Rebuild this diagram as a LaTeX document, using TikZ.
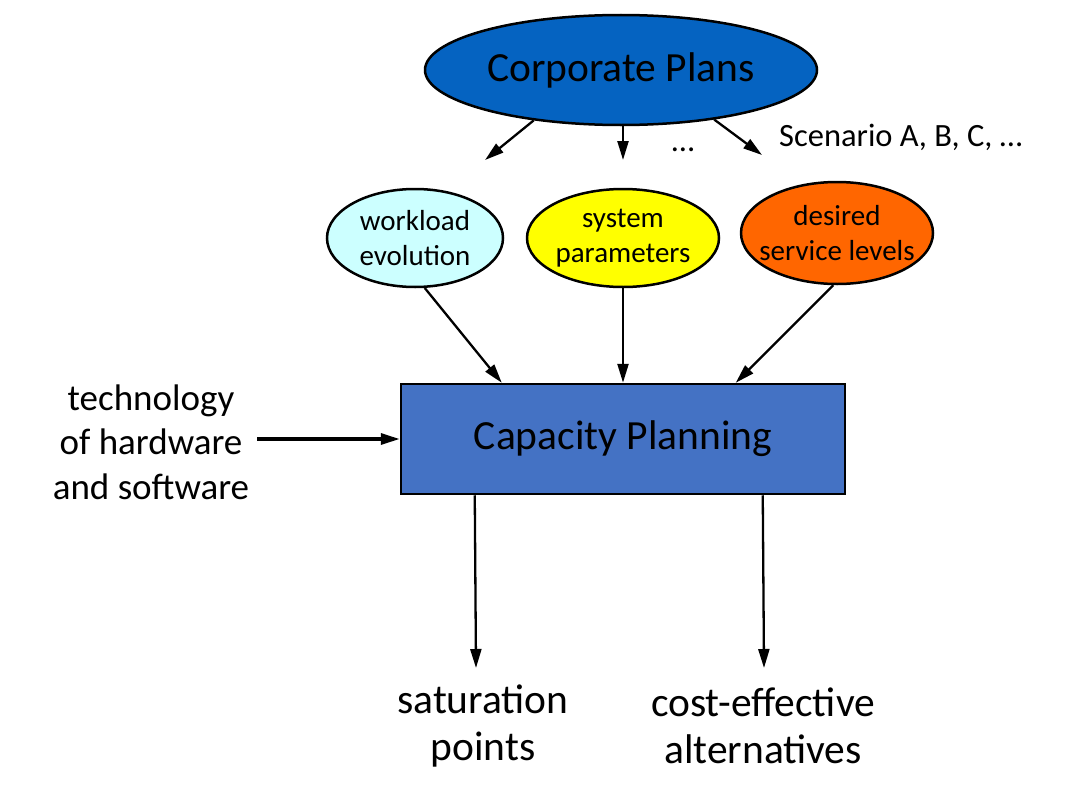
\documentclass[tikz,border=0pt]{standalone}
\usepackage{fontspec}
\setmainfont{Carlito}
\usetikzlibrary{arrows.meta,shapes.geometric}
\definecolor{cpblue}{HTML}{0563C1}
\definecolor{boxblue}{HTML}{4472C4}
\definecolor{lcyan}{HTML}{CCFFFF}
\definecolor{yel}{HTML}{FFFF00}
\definecolor{ora}{HTML}{FF6600}
\tikzset{
  ell/.style={ellipse, draw=black, line width=2.5pt, inner xsep=-14pt, inner ysep=-6pt, align=center},
  sub/.style={ell, minimum width=176pt, minimum height=98pt, font=\fontsize{29}{35}\selectfont},
  arr/.style={line width=2.3pt, -{Triangle[length=19pt,width=11pt]}},
  lbl/.style={align=center, inner sep=0pt},
}
\begin{document}
\begin{tikzpicture}[x=1pt,y=-1pt]
\useasboundingbox (0,0) rectangle (1078,792);
\node[ell, fill=cpblue, minimum width=392pt, minimum height=110pt, font=\fontsize{41.5}{44}\selectfont] (corp) at (621,70) {Corporate Plans};
\node[sub, fill=lcyan] (wl) at (415,238) {workload\\evolution};
\node[sub, fill=yel, minimum width=192pt] (sp) at (623,238) {system\\parameters};
\node[sub, fill=ora, minimum width=192pt, minimum height=102pt] (ds) at (837,233) {desired\\service levels};
\node[draw=black, line width=2.5pt, fill=boxblue, minimum width=444pt, minimum height=110pt, font=\fontsize{41.5}{44}\selectfont] (cap) at (623,439) {Capacity Planning};
\node[lbl, font=\fontsize{37}{44.5}\selectfont] (tech) at (151,442) {technology\\of hardware\\and software};
\node[lbl, font=\fontsize{41.5}{47}\selectfont] (sat) at (483,726) {saturation\\points};
\node[lbl, font=\fontsize{41.5}{47}\selectfont] (cost) at (763,726) {cost-effective\\alternatives};
\node[lbl, font=\fontsize{32.5}{36}\selectfont, anchor=west] (scen) at (779,137) {Scenario A, B, C, \dots};
\node[lbl, font=\fontsize{32.5}{36}\selectfont] (dots) at (683,150) {\dots};
\coordinate (e1) at (485,160);
\coordinate (e2) at (623,160);
\coordinate (e3) at (762,155);
\coordinate (o1) at (476,668);
\coordinate (o2) at (764,668);
\draw[arr] (corp.-150) -- (e1);
\draw[arr] (corp.south -| e2) -- (e2);
\draw[arr] (corp.-28) -- (e3);
\draw[arr] (wl.-79) -- ([xshift=102pt]cap.north west);
\draw[arr] (sp.south) -- (cap.north);
\draw[arr] (ds.-94) -- ([xshift=336pt]cap.north west);
\draw[arr, line width=3.2pt] ([xshift=8pt]tech.east |- cap.west) -- (cap.west);
\draw[arr] ([xshift=75pt]cap.south west) -- (o1);
\draw[arr] ([xshift=363pt]cap.south west) -- (o2);
\end{tikzpicture}
\end{document}
